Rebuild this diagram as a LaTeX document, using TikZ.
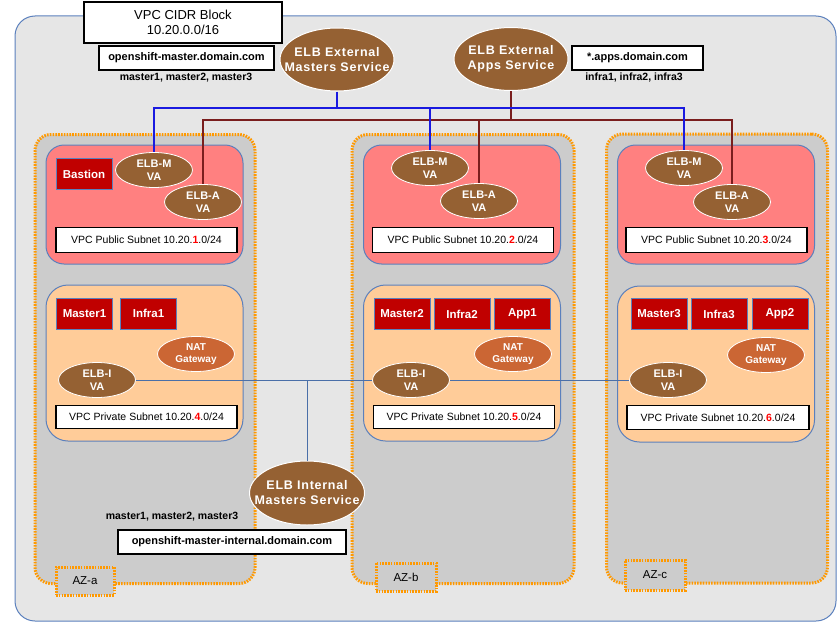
\documentclass[tikz,border=0pt]{standalone}
\usepackage{fontspec}
\setmainfont{Liberation Sans}
\newfontfamily\spacedfont[LetterSpace=6]{Liberation Sans}
\usetikzlibrary{shapes.geometric}
\definecolor{vpcbg}{HTML}{E6E6E6}
\definecolor{vpcline}{HTML}{5B80BD}
\definecolor{azbg}{HTML}{CCCCCC}
\definecolor{azline}{HTML}{FF9900}
\definecolor{pubbg}{HTML}{FF8080}
\definecolor{privbg}{HTML}{FFCC99}
\definecolor{subline}{HTML}{5B80BD}
\definecolor{instbg}{HTML}{C00000}
\definecolor{elbbg}{HTML}{956133}
\definecolor{natbg}{HTML}{CB6634}
\definecolor{mline}{HTML}{1A1AE0}
\definecolor{aline}{HTML}{7A1E1E}
\definecolor{iline}{HTML}{4A6FA8}
\definecolor{netred}{HTML}{FF0000}
\tikzset{
  vpcbox/.style={draw=vpcline, fill=vpcbg, line width=1pt, rounded corners=20, minimum width=821, minimum height=605},
  azbox/.style={draw=azline, fill=azbg, line width=3pt, dash pattern=on 1.6pt off 1.2pt, rounded corners=16, minimum height=449},
  azlabel/.style={draw=azline, fill=azbg, line width=3pt, dash pattern=on 1.6pt off 1.2pt, minimum width=58, minimum height=28, font=\fontsize{11.5}{13}\selectfont},
  pubbox/.style={draw=subline, fill=pubbg, line width=1pt, rounded corners=18, minimum width=197, minimum height=119},
  privbox/.style={draw=subline, fill=privbg, line width=1pt, rounded corners=22, minimum width=197, minimum height=156},
  txtbox/.style={draw=black, fill=white, line width=1.6pt, inner sep=0pt, font=\fontsize{10.5}{12}\selectfont},
  dnsbox/.style={draw=black, fill=white, line width=1.6pt, inner sep=0pt, font=\bfseries\fontsize{11}{13}\selectfont},
  hosts/.style={inner sep=0pt, font=\bfseries\fontsize{10.5}{12}\selectfont},
  inst/.style={draw=subline, fill=instbg, line width=0.8pt, minimum width=56, minimum height=31, inner sep=0pt, text=white, font=\bfseries\fontsize{11.5}{13}\selectfont},
  elbbig/.style={ellipse, draw=white, line width=1pt, fill=elbbg, minimum width=114, minimum height=63, inner sep=0pt, text=white, align=center, font=\spacedfont\bfseries\fontsize{12.5}{15}\selectfont},
  elbsmall/.style={ellipse, draw=white, line width=0.8pt, fill=elbbg, minimum width=77, minimum height=35, inner sep=0pt, text=white, align=center, font=\bfseries\fontsize{11}{12.5}\selectfont},
  natell/.style={elbsmall, fill=natbg, font=\bfseries\fontsize{10}{11.5}\selectfont},
  mconn/.style={draw=mline, line width=2pt},
  aconn/.style={draw=aline, line width=2pt},
  iconn/.style={draw=iline, line width=1pt},
}
\newcommand{\netnum}[1]{\textcolor{netred}{\bfseries #1}}
\newcommand{\zw}[1]{\makebox[0pt]{#1}}
\begin{document}
\begin{tikzpicture}[x=1pt,y=-1pt]
\useasboundingbox (0,0) rectangle (840,626);
% VPC
\node[vpcbox] (vpc) at (425.5,318.5) {};
% AZs
\node[azbox, minimum width=220] (aza) at (145,359) {};
\node[azbox, minimum width=222] (azb) at (463,359) {};
\node[azbox, minimum width=221] (azc) at (717,358.5) {};
% public subnets
\node[pubbox] (puba) at (144.5,204.5) {};
\node[pubbox] (pubb) at (462,204.5) {};
\node[pubbox] (pubc) at (716,204.5) {};
% private subnets
\node[privbox] (priva) at (144.5,363) {};
\node[privbox] (privb) at (462,363) {};
\node[privbox] (privc) at (716,364) {};
% subnet labels
\node[txtbox, minimum width=181, minimum height=25] (pubta) at (146.5,240) {VPC Public Subnet 10.20.\netnum{1}.0/24};
\node[txtbox, minimum width=181, minimum height=25] (pubtb) at (463,240) {VPC Public Subnet 10.20.\netnum{2}.0/24};
\node[txtbox, minimum width=181, minimum height=25] (pubtc) at (716.5,240) {VPC Public Subnet 10.20.\netnum{3}.0/24};
\node[txtbox, minimum width=181, minimum height=23] (privta) at (146.5,417) {VPC Private Subnet 10.20.\netnum{4}.0/24};
\node[txtbox, minimum width=181, minimum height=23] (privtb) at (464,417) {VPC Private Subnet 10.20.\netnum{5}.0/24};
\node[txtbox, minimum width=182, minimum height=24] (privtc) at (718,417.5) {VPC Private Subnet 10.20.\netnum{6}.0/24};
% instances
\node[inst] (bastion) at (84,174) {Bastion};
\node[inst] (master1) at (84.5,313.5) {Master1};
\node[inst] (infra1) at (148.5,313.5) {Infra1};
\node[inst] (master2) at (402,314) {Master2};
\node[inst] (infra2) at (462,314) {Infra2};
\node[inst] (app1) at (522.5,314) {App1};
\node[inst] (master3) at (659,314) {Master3};
\node[inst] (infra3) at (719,314) {Infra3};
\node[inst] (app2) at (780,314) {App2};
% top boxes
\node[draw=black, fill=white, line width=1.6pt, minimum width=198, minimum height=41, inner sep=0pt, align=center, font=\fontsize{13}{15}\selectfont] (cidr) at (183,22.5) {VPC CIDR Block\\10.20.0.0/16};
\node[dnsbox, minimum width=175, minimum height=24] (mdns) at (186.5,58) {openshift-master.domain.com};
\node[hosts] (mhosts) at (186,78) {master1, master2, master3};
\node[dnsbox, minimum width=131, minimum height=24] (adns) at (637.5,58) {*.apps.domain.com};
\node[hosts] (ahosts) at (634,78) {infra1, infra2, infra3};
\node[hosts] (ihosts) at (172,517) {master1, master2, master3};
\node[dnsbox, minimum width=228, minimum height=24] (idns) at (232,542) {openshift-master-internal.domain.com};
% ELBs
\node[elbbig] (extm) at (337,59.5) {\zw{ELB External}\\\zw{Masters Service}};
\node[elbbig] (exta) at (511,59) {\zw{ELB External}\\\zw{Apps Service}};
\node[elbbig, minimum width=115, minimum height=64] (ints) at (307,493) {\zw{ELB Internal}\\\zw{Masters Service}};
\node[elbsmall] (elbma) at (154,170) {ELB-M\\VA};
\node[elbsmall] (elbaa) at (203,202) {ELB-A\\VA};
\node[elbsmall] (elbmb) at (430,168) {ELB-M\\VA};
\node[elbsmall] (elbab) at (479,201) {ELB-A\\VA};
\node[elbsmall] (elbmc) at (684,168) {ELB-M\\VA};
\node[elbsmall] (elbac) at (732,202) {ELB-A\\VA};
\node[elbsmall] (elbia) at (97,380) {ELB-I\\VA};
\node[elbsmall] (elbib) at (411,380) {ELB-I\\VA};
\node[elbsmall] (elbic) at (668,380) {ELB-I\\VA};
\node[natell] (nata) at (196,354) {NAT\\Gateway};
\node[natell] (natb) at (513,354) {NAT\\Gateway};
\node[natell] (natc) at (766,355) {NAT\\Gateway};
% connectors
\coordinate (mbus) at (337,108);
\coordinate (abus) at (511,120);
\coordinate (ibus) at (307,380);
\draw[aconn] (exta.south) -- (abus);
\draw[aconn] (abus) -| (elbaa.north);
\draw[aconn] (abus) -| (elbab.north);
\draw[aconn] (abus) -| (elbac.north);
\draw[mconn] (extm.south) -- (mbus);
\draw[mconn] (mbus) -| (elbma.north);
\draw[mconn] (mbus) -| (elbmb.north);
\draw[mconn] (mbus) -| (elbmc.north);
\draw[iconn] (elbia.east) -- (elbib.west);
\draw[iconn] (elbib.east) -- (elbic.west);
\draw[iconn] (ints.north) -- (ibus);
% AZ labels
\node[azlabel] (azla) at (85,581) {AZ-a};
\node[azlabel, minimum width=60] (azlb) at (406,577) {AZ-b};
\node[azlabel, minimum width=60, minimum height=30] (azlc) at (655,575) {AZ-c};
\end{tikzpicture}
\end{document}
